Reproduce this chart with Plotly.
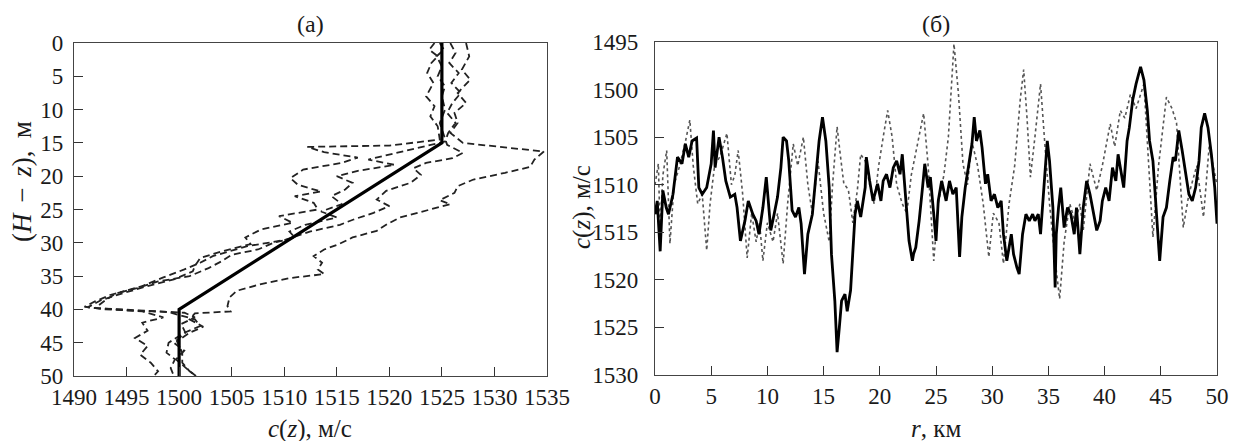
import plotly.graph_objects as go

# ---------------- panel (а): sound-speed profiles c(z) vs depth (H - z) ----------------
# mean (piecewise-linear) profile
mean_depth = [0, 15, 40, 50]
mean_speed = [1525, 1525, 1500, 1500]

# measured realisations (dashed)
p1_depth = [0, 2, 4, 5.5, 7.5, 9, 10.5, 12, 13.5, 15, 16.3, 17.5, 18.6, 19.5, 20.5, 21.5, 22.5,
            23.6, 24.2, 25.3, 26.2, 27.2, 28.2, 29.2, 30.2, 31.0, 32.0, 33.0, 34.0, 34.7, 35.3,
            36.2, 37.2, 38.2, 39.5, 40.3, 40.6, 41.5, 42.6, 43.5, 44.8, 46.5, 48.0, 49.3, 50.0]
p1_speed = [1527.3, 1527.6, 1526.9, 1527.7, 1526.5, 1527.3, 1526.2, 1526.5, 1525.8, 1527.0,
            1534.7, 1533.8, 1533.4, 1531.0, 1528.0, 1526.5, 1526.2, 1524.8, 1525.8, 1523.0,
            1521.0, 1519.8, 1518.8, 1516.5, 1515.2, 1513.8, 1512.8, 1513.6, 1513.2, 1513.8,
            1510.5, 1507.8, 1505.5, 1504.8, 1504.6, 1504.9, 1501.5, 1501.0, 1502.3, 1501.0,
            1499.8, 1500.3, 1500.3, 1501.0, 1501.6]

p2_depth = [0, 1.0, 2.0, 3.0, 4.5, 6.0, 8.0, 9.5, 11.0, 12.5, 14.5, 15.4, 15.6, 16.4, 17.2, 18.0,
            19.0, 20.3, 21.3, 22.3, 23.0, 24.0, 25.0, 26.0, 27.0, 28.0, 29.2, 30.2, 31.3, 32.3,
            33.5, 34.3, 35.5, 36.5, 37.5, 38.6, 39.7, 40.3, 41.2, 42.0, 43.2, 44.3, 45.5, 46.8,
            48.0, 49.3, 50.0]
p2_speed = [1524.3, 1523.8, 1524.6, 1524.0, 1523.6, 1524.2, 1523.5, 1524.3, 1523.9, 1524.6,
            1524.8, 1520.0, 1512.2, 1513.8, 1517.0, 1515.5, 1511.8, 1510.6, 1511.3, 1513.5,
            1511.0, 1512.8, 1513.2, 1509.5, 1510.8, 1507.8, 1506.3, 1506.8, 1504.0, 1502.0,
            1501.5, 1501.3, 1499.5, 1497.0, 1494.8, 1492.6, 1491.3, 1496.5, 1498.5, 1496.5,
            1497.0, 1495.8, 1497.0, 1496.3, 1497.3, 1498.0, 1497.6]

p3_depth = [0, 1.5, 3.0, 4.5, 6.0, 7.5, 9.0, 10.5, 12.0, 13.5, 14.8, 15.8, 16.8, 17.5, 18.3, 19.2,
            20.0, 21.0, 22.0, 23.0, 24.2, 25.3, 26.2, 27.3, 28.3, 29.2, 30.0, 31.0, 31.8, 32.8,
            33.8, 35.0, 35.8, 36.8, 37.8, 38.8, 39.6, 40.0, 40.4, 41.5, 42.5, 43.5, 45.0, 46.5,
            47.5, 48.8, 50.0]
p3_speed = [1525.8, 1526.3, 1525.7, 1526.6, 1525.9, 1526.8, 1526.0, 1525.5, 1526.3, 1525.6,
            1525.3, 1522.5, 1520.0, 1518.0, 1520.5, 1517.0, 1515.0, 1516.5, 1515.8, 1514.5,
            1515.5, 1513.5, 1515.0, 1512.0, 1510.5, 1511.0, 1509.0, 1507.5, 1505.0, 1504.0,
            1502.8, 1501.0, 1498.0, 1496.0, 1493.5, 1492.0, 1491.0, 1493.0, 1499.0, 1501.5,
            1502.0, 1500.5, 1499.0, 1498.8, 1499.6, 1499.2, 1499.5]

p4_depth = [0, 1.0, 2.0, 3.5, 5.0, 6.5, 8.0, 10.0, 12.0, 14.0, 15.3, 16.5, 17.3, 18.0, 18.8, 19.8,
            21.0, 22.2, 23.5, 24.5, 25.5, 26.5, 27.3, 28.3, 29.6, 30.5, 31.2, 32.0, 33.0, 34.0,
            35.2, 36.5, 37.6, 38.6, 39.8, 40.5, 41.2, 42.2, 43.5, 45.0, 46.2, 47.5, 49.0, 50.0]
p4_speed = [1524.8, 1525.2, 1524.5, 1525.0, 1524.6, 1525.3, 1525.0, 1525.3, 1524.8, 1525.2,
            1525.5, 1527.0, 1526.0, 1523.5, 1522.3, 1523.0, 1522.0, 1519.7, 1518.8, 1520.0,
            1518.5, 1516.6, 1515.3, 1512.5, 1510.0, 1506.5, 1505.0, 1503.2, 1502.0, 1500.5,
            1498.5, 1496.5, 1494.0, 1493.0, 1492.0, 1500.5, 1501.5, 1500.2, 1500.6, 1499.5,
            1500.5, 1499.7, 1500.8, 1501.6]

# ---------------- panel (б): c(z) along the track r ----------------
r_solid = [0.0, 0.2, 0.46, 0.7, 1.0, 1.2, 1.6, 1.8, 2.0, 2.4, 2.7, 3.0, 3.3, 3.7, 3.9, 4.2, 4.6,
           5.0, 5.2, 5.35, 5.7, 6.0, 6.3, 6.7, 7.1, 7.3, 7.6, 8.0, 8.3, 8.7, 9.0, 9.25, 9.6, 9.9,
           10.1, 10.3, 10.6, 10.9, 11.2, 11.4, 11.7, 11.9, 12.2, 12.5, 12.8, 13.0, 13.3, 13.6,
           14.0, 14.3, 14.6, 14.9, 15.2, 15.5, 15.7, 16.0, 16.2, 16.4, 16.6, 16.9, 17.1, 17.4,
           17.6, 17.8, 18.0, 18.3, 18.7, 18.8, 19.1, 19.4, 19.8, 20.1, 20.3, 20.6, 20.9, 21.2,
           21.5, 21.8, 22.0, 22.2, 22.4, 22.6, 22.9, 23.0, 23.2, 23.5, 23.8, 24.0, 24.3, 24.5,
           24.8, 25.0, 25.2, 25.5, 25.9, 26.2, 26.5, 26.8, 27.1, 27.3, 27.6, 27.9, 28.2, 28.4,
           28.6, 28.9, 29.1, 29.4, 29.6, 29.9, 30.2, 30.5, 30.8, 31.0, 31.3, 31.7, 31.9, 32.2,
           32.4, 32.7, 33.0, 33.3, 33.6, 33.8, 34.1, 34.3, 34.6, 34.9, 35.1, 35.4, 35.6, 35.7,
           35.9, 36.1, 36.4, 36.7, 37.0, 37.3, 37.5, 37.8, 38.1, 38.4, 38.7, 39.0, 39.3, 39.6,
           39.8, 40.1, 40.4, 40.7, 41.0, 41.2, 41.5, 41.7, 42.0, 42.2, 42.5, 42.8, 43.2, 43.5,
           43.8, 44.0, 44.3, 44.6, 44.9, 45.2, 45.5, 45.8, 46.1, 46.3, 46.6, 46.9, 47.2, 47.5,
           47.8, 48.1, 48.4, 48.6, 48.9, 49.2, 49.5, 49.8, 50.0]
c_solid = [1513.1, 1511.7, 1517.0, 1510.6, 1512.4, 1513.1, 1511.0, 1509.2, 1507.1, 1507.8,
           1505.7, 1507.1, 1505.4, 1505.1, 1510.3, 1511.0, 1510.3, 1507.8, 1504.3, 1508.2,
           1505.0, 1507.1, 1509.6, 1511.3, 1511.0, 1512.4, 1515.9, 1513.8, 1511.7, 1513.1,
           1513.8, 1515.2, 1512.4, 1509.2, 1511.7, 1514.8, 1513.1, 1511.3, 1508.2, 1505.0,
           1505.4, 1507.5, 1512.7, 1513.4, 1512.4, 1514.1, 1519.4, 1515.2, 1513.1, 1508.9,
           1505.4, 1502.9, 1505.4, 1510.3, 1517.3, 1522.2, 1527.6, 1525.0, 1522.2, 1521.5,
           1523.3, 1521.1, 1517.3, 1513.1, 1511.7, 1513.4, 1510.3, 1507.1, 1509.6, 1511.7,
           1509.9, 1511.7, 1509.6, 1508.9, 1510.3, 1508.2, 1507.5, 1508.9, 1506.8, 1509.6,
           1513.1, 1515.9, 1518.0, 1517.3, 1516.6, 1513.8, 1510.3, 1507.8, 1510.3, 1509.2,
           1513.1, 1515.9, 1511.7, 1509.6, 1511.7, 1509.6, 1511.0, 1510.3, 1517.6, 1513.4,
           1510.3, 1508.2, 1505.7, 1502.9, 1505.4, 1504.3, 1506.1, 1509.9, 1508.9, 1511.7,
           1511.0, 1512.4, 1511.7, 1515.2, 1518.0, 1515.2, 1517.3, 1518.7, 1519.4, 1515.2,
           1513.1, 1513.8, 1513.1, 1513.8, 1513.1, 1515.2, 1510.3, 1505.4, 1507.5, 1512.4,
           1520.8, 1515.2, 1512.4, 1510.3, 1514.5, 1512.4, 1513.1, 1515.2, 1512.4, 1517.3,
           1512.4, 1509.6, 1511.0, 1513.1, 1514.8, 1513.8, 1511.7, 1510.3, 1511.7, 1508.2,
           1509.6, 1506.8, 1508.9, 1510.3, 1505.4, 1504.0, 1501.1, 1499.4, 1497.6, 1499.0,
           1502.2, 1505.4, 1507.5, 1513.1, 1518.0, 1513.4, 1512.4, 1509.6, 1507.1, 1507.5,
           1504.3, 1506.4, 1508.9, 1511.0, 1511.7, 1510.3, 1507.5, 1504.0, 1502.5, 1504.0,
           1506.8, 1510.3, 1514.1]

r_dotted = [0.0, 0.3, 0.45, 0.7, 1.04, 1.33, 1.7, 2.2, 2.7, 3.1, 3.4, 3.8, 4.2, 4.6, 4.9, 5.3,
            5.8, 6.4, 6.8, 7.1, 7.4, 7.8, 8.2, 8.6, 9.0, 9.3, 9.6, 10.0, 10.5, 10.9, 11.4, 11.8,
            12.3, 12.7, 13.2, 13.6, 14.0, 14.5, 15.0, 15.5, 15.8, 16.2, 16.5, 16.8, 17.2, 17.6,
            18.0, 18.3, 18.7, 19.1, 19.5, 19.9, 20.3, 20.7, 21.1, 21.5, 22.0, 22.4, 22.8, 23.3,
            23.9, 24.3, 24.8, 25.2, 25.7, 26.1, 26.6, 27.0, 27.4, 27.8, 28.2, 28.7, 29.2, 29.7,
            30.1, 30.6, 31.0, 31.5, 32.0, 32.5, 32.8, 33.1, 33.4, 33.8, 34.3, 34.7, 35.1, 35.6,
            36.0, 36.4, 36.9, 37.4, 37.8, 38.1, 38.7, 39.3, 39.8, 40.5, 40.9, 41.4, 41.8, 42.3,
            42.8, 43.5, 43.9, 44.3, 44.8, 45.5, 46.0, 46.4, 47.0, 47.5, 48.2, 48.8, 49.3, 49.7,
            50.0]
c_dotted = [1510.0, 1507.8, 1514.8, 1509.0, 1506.4, 1516.2, 1510.0, 1508.0, 1505.5, 1503.2,
            1508.0, 1512.0, 1511.0, 1516.9, 1512.0, 1508.0, 1507.0, 1504.6, 1510.0, 1509.0,
            1506.4, 1511.0, 1517.7, 1513.0, 1516.0, 1514.0, 1518.0, 1514.0, 1516.0, 1513.0,
            1518.3, 1512.0, 1505.7, 1508.0, 1505.0, 1510.0, 1513.0, 1507.5, 1513.0, 1516.0,
            1510.0, 1503.9, 1507.0, 1509.9, 1510.5, 1514.0, 1510.6, 1506.8, 1507.5, 1510.0,
            1512.0, 1508.0, 1505.0, 1502.2, 1505.0, 1510.0, 1512.0, 1513.0, 1509.0, 1506.0,
            1502.5, 1508.0, 1518.0, 1512.0, 1509.0, 1505.0, 1495.2, 1500.5, 1507.8, 1510.0,
            1505.5, 1508.0, 1512.0, 1517.6, 1513.0, 1514.0, 1518.3, 1512.0, 1508.0, 1501.0,
            1497.9, 1503.0, 1509.2, 1505.0, 1499.4, 1506.0, 1512.0, 1518.0, 1522.0, 1516.0,
            1512.0, 1514.0, 1512.0, 1514.8, 1507.8, 1510.6, 1508.0, 1503.6, 1506.0, 1502.2,
            1503.0, 1500.5, 1502.0, 1499.4, 1507.0, 1515.5, 1508.0, 1500.8, 1502.0, 1503.5,
            1514.5, 1511.0, 1508.0, 1513.4, 1506.0, 1508.5, 1510.0]

# tick values
a_xticks = [1490, 1495, 1500, 1505, 1510, 1515, 1520, 1525, 1530, 1535]
a_yticks = [0, 5, 10, 15, 20, 25, 30, 35, 40, 45, 50]
b_xticks = [0, 5, 10, 15, 20, 25, 30, 35, 40, 45, 50]
b_yticks = [1495, 1500, 1505, 1510, 1515, 1520, 1525, 1530]

FONT = "Liberation Serif, 'Times New Roman', 'DejaVu Serif', serif"
INK = "#1a1a1a"
dash_style = "7px,4px"

fig = go.Figure()

for depth, speed in [(p1_depth, p1_speed), (p2_depth, p2_speed),
                     (p3_depth, p3_speed), (p4_depth, p4_speed)]:
    fig.add_trace(go.Scatter(x=speed, y=depth, mode="lines",
                             line=dict(color="#222222", width=1.8, dash=dash_style),
                             xaxis="x", yaxis="y", showlegend=False, hoverinfo="skip"))
fig.add_trace(go.Scatter(x=mean_speed, y=mean_depth, mode="lines",
                         line=dict(color="#000000", width=3.2),
                         xaxis="x", yaxis="y", showlegend=False))

fig.add_trace(go.Scatter(x=r_dotted, y=c_dotted, mode="lines",
                         line=dict(color="#555555", width=1.6, dash="dot"),
                         xaxis="x2", yaxis="y2", showlegend=False))
fig.add_trace(go.Scatter(x=r_solid, y=c_solid, mode="lines",
                         line=dict(color="#000000", width=2.8),
                         xaxis="x2", yaxis="y2", showlegend=False))

W, H = 1233, 441

axis_common = dict(showline=True, mirror=True, linecolor="#444444", linewidth=1.4,
                   ticks="inside", ticklen=9, tickwidth=1.4, tickcolor="#333333",
                   showgrid=False, zeroline=False, automargin=False,
                   tickfont=dict(family=FONT, size=23, color=INK))

fig.update_layout(
    template="none",
    width=W, height=H,
    margin=dict(l=0, r=0, t=0, b=0, pad=0),
    paper_bgcolor="white", plot_bgcolor="white",
    xaxis=dict(domain=[74 / W, 547 / W], range=[1490, 1535], tickvals=a_xticks,
               anchor="y", ticklabelstandoff=0, **axis_common),
    yaxis=dict(domain=[1 - 376 / H, 1 - 43 / H], range=[50, 0], tickvals=a_yticks,
               anchor="x", ticklabelstandoff=5, **axis_common),
    xaxis2=dict(domain=[655 / W, 1217 / W], range=[0, 50], tickvals=b_xticks,
                anchor="y2", ticklabelstandoff=0, **axis_common),
    yaxis2=dict(domain=[1 - 375 / H, 1 - 42 / H], range=[1530, 1495], tickvals=b_yticks,
                anchor="x2", ticklabelstandoff=11, **axis_common),
)

title_font = dict(family=FONT, size=24, color=INK)
labels = [
    ("(а)", 310, 24, 0, 24),
    ("(б)", 936, 24, 0, 24),
    ("<i>c</i>(<i>z</i>), м/с", 310, 429, 0, 25),
    ("<i>r</i>, км", 936, 428, 0, 25),
    ("(<i>H</i>\u2009\u2009−\u2009\u2009<i>z</i>), \u2009м", 22, 182, -90, 27),
    ("<i>c</i>(<i>z</i>), м/с", 582, 207, -90, 25),
]
for text, px, py, angle, size in labels:
    fig.add_annotation(text=text, x=px / W, y=1 - py / H, xref="paper", yref="paper",
                       xanchor="center", yanchor="middle", textangle=angle,
                       showarrow=False, font=dict(family=FONT, size=size, color=INK))

fig.write_html("out.html")
